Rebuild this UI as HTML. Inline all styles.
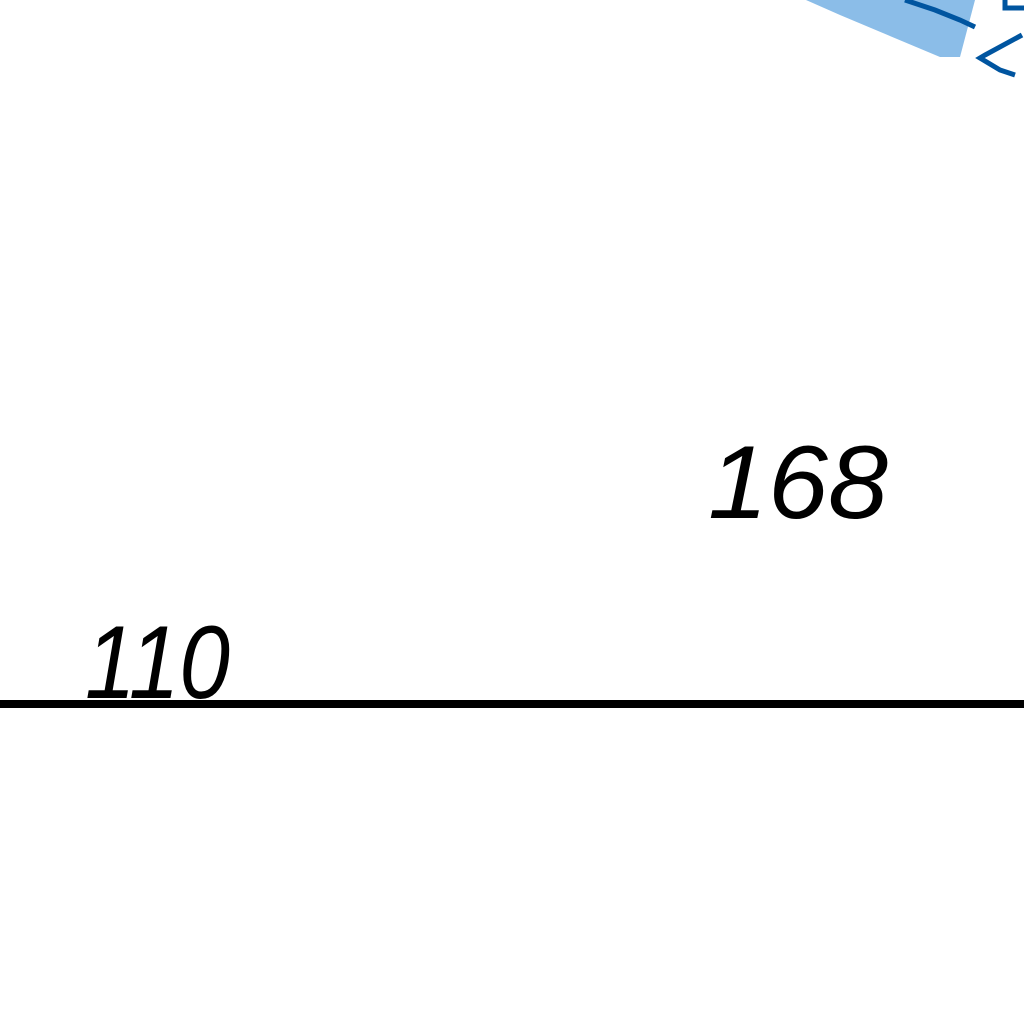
<!DOCTYPE html>
<html><head><meta charset="utf-8"><style>
html,body{margin:0;padding:0;background:#fff;width:1024px;height:1024px;overflow:hidden}
svg{display:block}
text{font-family:"Liberation Sans",sans-serif;font-style:italic;fill:#000}
</style></head><body>
<svg width="1024" height="1024">
<g id="marks"></g>
<line x1="0" y1="704" x2="1024" y2="704" stroke="#000" stroke-width="8"/>
<polygon points="806,0 975,0 960,57 940,57 840,15" fill="#8bbde8"/>
<polyline points="905,0 935,10 960,20 975,27" fill="none" stroke="#0055a0" stroke-width="5"/>
<polyline points="1022,35 985,55 980,58 1000,70 1015,75" fill="none" stroke="#0055a0" stroke-width="5"/>
<polyline points="1005,0 1005,8 1024,8" fill="none" stroke="#0055a0" stroke-width="5"/>
</svg>
<script>
const labels = ["110", "168"];
const values = [110, 168];
const g = document.getElementById('marks');
const ns = 'http://www.w3.org/2000/svg';
const xs = [85, 708];
const widths = [145, 180];
function yScale(v){ return 698 - (v - 110) * (698 - 518) / (168 - 110); }
labels.forEach((l, i) => {
  const t = document.createElementNS(ns, 'text');
  t.setAttribute('x', xs[i]);
  t.setAttribute('y', yScale(values[i]));
  t.setAttribute('font-size', '104');
  t.setAttribute('textLength', widths[i]);
  t.setAttribute('lengthAdjust', 'spacingAndGlyphs');
  t.textContent = l;
  
  
  g.appendChild(t);
});
</script>
</body></html>
